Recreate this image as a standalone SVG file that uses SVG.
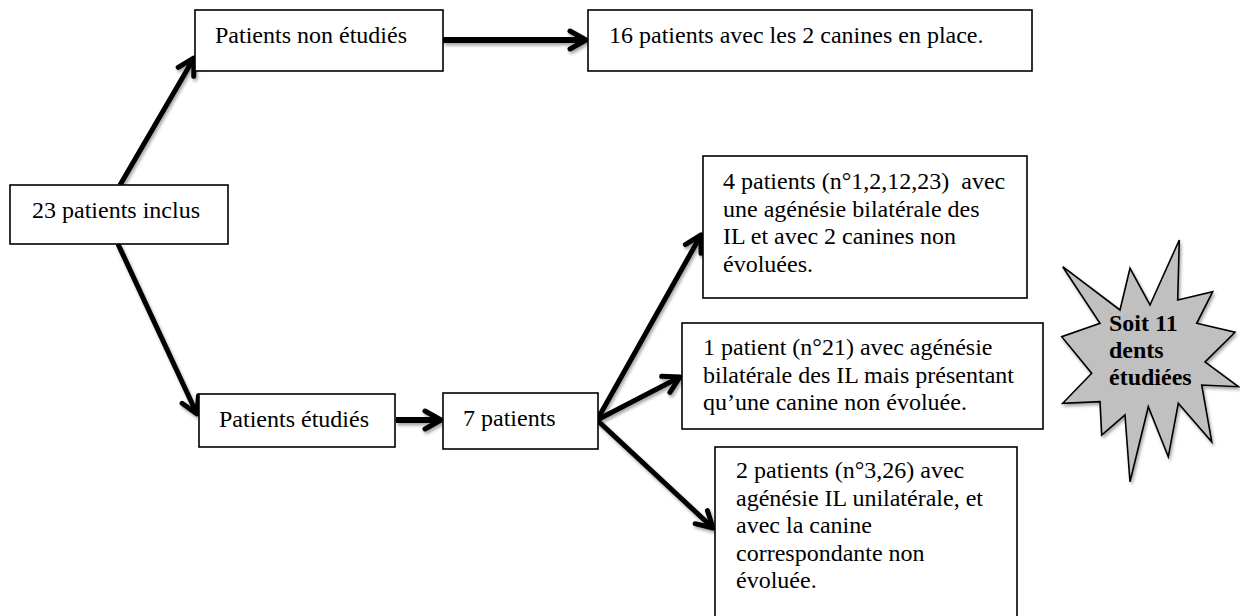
<svg xmlns="http://www.w3.org/2000/svg" width="1240" height="616" viewBox="0 0 1240 616">
<style>
.box{fill:#fff;stroke:#000;stroke-width:1.6}
.t{font-family:"Liberation Serif","Times New Roman",serif;font-size:24px;fill:#000}
.tb{font-family:"Liberation Serif","Times New Roman",serif;font-size:24px;font-weight:bold;fill:#000}
.conn{fill:none;stroke:#000;stroke-width:5;stroke-linecap:butt}
.thick{stroke-width:6}
</style>
<defs>
<filter id="sh" x="-20%" y="-20%" width="140%" height="140%">
<feDropShadow dx="1.5" dy="2.5" stdDeviation="1.5" flood-color="#000" flood-opacity="0.35"/>
</filter>
<marker id="ah" markerUnits="userSpaceOnUse" viewBox="0 0 26 26" markerWidth="26" markerHeight="26" refX="21" refY="13" orient="auto">
<path d="M5,4 L21,13 L5,22" fill="none" stroke="#000" stroke-width="5" stroke-linecap="round" stroke-linejoin="round"/>
</marker>
</defs>
<rect width="1240" height="616" fill="#fff"/>

<g id="connectors" filter="url(#sh)">
<line class="conn" x1="120" y1="185" x2="194" y2="58" marker-end="url(#ah)"/>
<line class="conn" x1="118" y1="244" x2="197" y2="414" marker-end="url(#ah)"/>
<line class="conn thick" x1="443" y1="40" x2="586" y2="40" marker-end="url(#ah)"/>
<line class="conn thick" x1="396" y1="420" x2="441" y2="420" marker-end="url(#ah)"/>
<line class="conn" x1="597" y1="420" x2="701" y2="235" marker-end="url(#ah)"/>
<line class="conn" x1="597" y1="420" x2="680" y2="377" marker-end="url(#ah)"/>
<line class="conn" x1="597" y1="420" x2="713" y2="528" marker-end="url(#ah)"/>
</g>

<g id="n-non-etudies">
<rect class="box" x="195" y="10" width="248" height="61"/>
<text class="t" x="215" y="43">Patients non étudiés</text>
</g>
<g id="n-16">
<rect class="box" x="588" y="10" width="444" height="61"/>
<text class="t" x="609" y="43">16 patients avec les 2 canines en place.</text>
</g>
<g id="n-23">
<rect class="box" x="10" y="185" width="218" height="59"/>
<text class="t" x="32" y="218">23 patients inclus</text>
</g>
<g id="n-etudies">
<rect class="box" x="199" y="394" width="196" height="53"/>
<text class="t" x="219" y="427">Patients étudiés</text>
</g>
<g id="n-7">
<rect class="box" x="443" y="393" width="155" height="56"/>
<text class="t" x="463" y="426">7 patients</text>
</g>
<g id="n-4">
<rect class="box" x="703" y="156" width="324" height="142"/>
<text class="t" xml:space="preserve"><tspan x="723" y="189">4 patients (n°1,2,12,23)  avec</tspan><tspan x="723" y="216.5">une agénésie bilatérale des</tspan><tspan x="723" y="244">IL et avec 2 canines non</tspan><tspan x="723" y="271.5">évoluées.</tspan></text>
</g>
<g id="n-1">
<rect class="box" x="682" y="323" width="361" height="106"/>
<text class="t"><tspan x="703" y="355">1 patient (n°21) avec agénésie</tspan><tspan x="703" y="383">bilatérale des IL mais présentant</tspan><tspan x="703" y="410">qu’une canine non évoluée.</tspan></text>
</g>
<g id="n-2">
<rect class="box" x="715" y="447" width="302" height="185"/>
<text class="t"><tspan x="736" y="478">2 patients (n°3,26) avec</tspan><tspan x="736" y="505.5">agénésie IL unilatérale, et</tspan><tspan x="736" y="533">avec la canine</tspan><tspan x="736" y="560.5">correspondante non</tspan><tspan x="736" y="588">évoluée.</tspan></text>
</g>
<g id="n-star">
<polygon filter="url(#sh)" fill="#c0c0c0" stroke="#000" stroke-width="1.6" stroke-linejoin="miter" points="1062.7,266.7 1120,310 1130,268.3 1150,305 1179.3,240 1177.7,300 1212.7,291.7 1196.7,323.3 1235,332.3 1205,362 1238.3,386.7 1201.7,385 1211.7,441.7 1178.3,403.3 1168.3,456.7 1148.3,406.7 1130,481.7 1125,415 1101.7,435 1100,401.7 1062.7,403.3 1091.7,373.3 1061.7,336.7 1100,323.3"/>
<text class="tb"><tspan x="1109" y="331">Soit 11</tspan><tspan x="1109" y="358">dents</tspan><tspan x="1109" y="385">étudiées</tspan></text>
</g>
</svg>
